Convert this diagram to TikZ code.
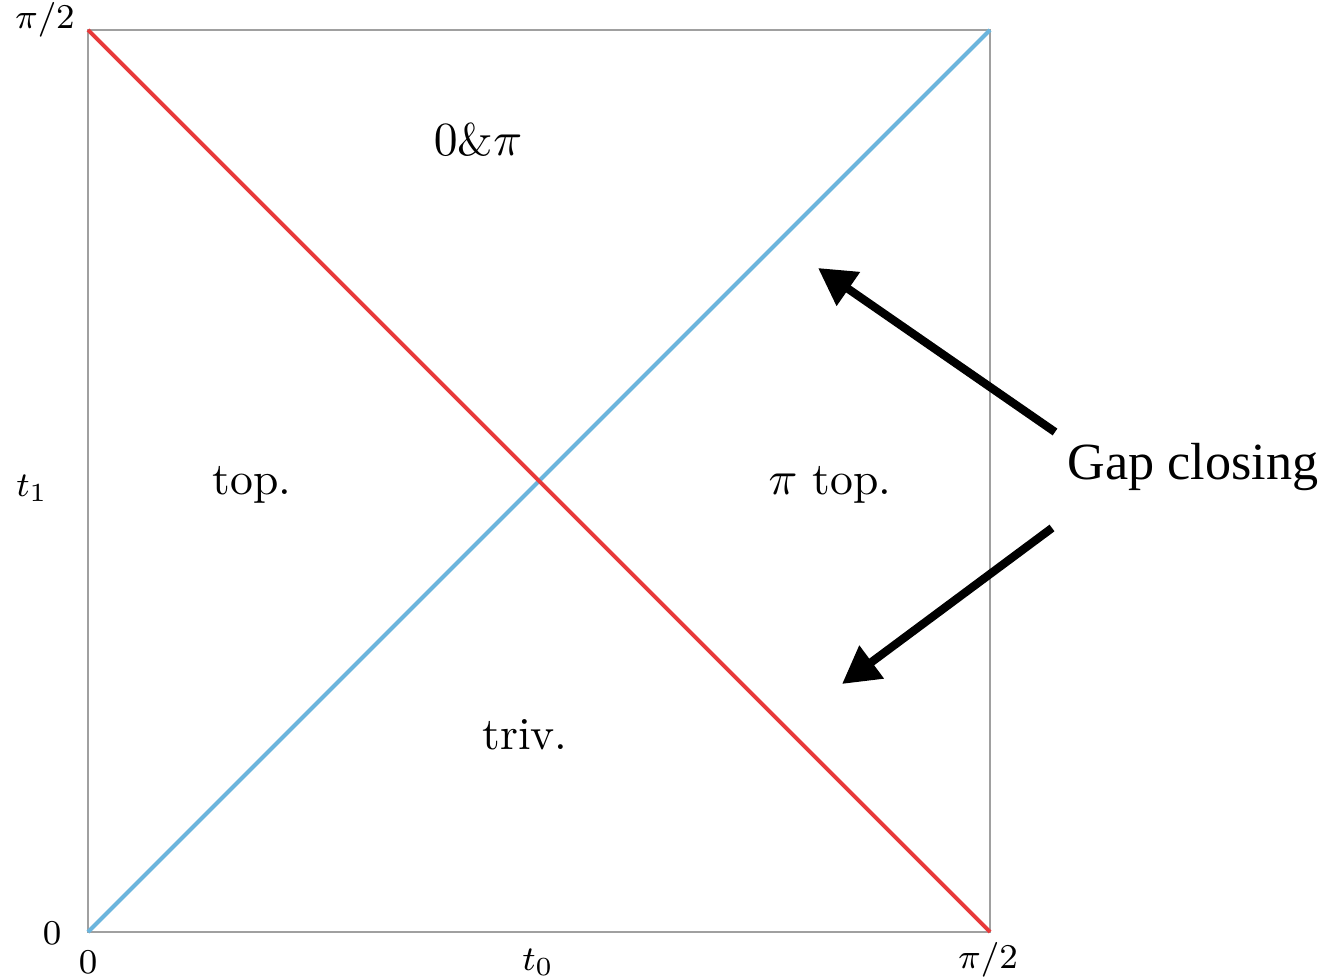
\documentclass[tikz,border=0pt]{standalone}
\usepackage{amsmath,amssymb}
\usepackage{fontspec}
\usepackage{xcolor}
\usepackage{tikz}
\usetikzlibrary{positioning, arrows.meta}
\newfontfamily\gapfont{Liberation Serif}
\definecolor{pRed}{HTML}{E8393A}
\definecolor{pBlue}{HTML}{6BB5DD}
\definecolor{pFrame}{HTML}{A0A0A0}
\tikzset{
  phaseline/.style={line width=0.9pt},
  ticklbl/.style={font=\fontsize{8.5}{10}\selectfont, inner sep=1pt},
  regionlbl/.style={font=\fontsize{10.5}{12}\selectfont, inner sep=1pt},
  gaparrow/.style={line width=1.9pt, -{Triangle[length=8.5pt,width=9pt]}},
}

\begin{document}
\begin{tikzpicture}[x=0.23pt,y=-0.23pt]
        \useasboundingbox (0,0) rectangle (1326,980);
        % corners of the phase square
        \coordinate (sw) at (88,932);
        \coordinate (se) at (990,932);
        \coordinate (nw) at (88,30);
        \coordinate (ne) at (990,30);
        \draw[pFrame, line width=0.45pt] (sw) rectangle (ne);
        \draw[phaseline, pBlue] (sw) -- (ne);
        \draw[phaseline, pRed] (nw) -- (se);
        % axis labels
        \node[ticklbl] (ytop) at (45,20) {$\pi/2$};
        \node[ticklbl] (ymid) at (32,488) {$t_1$};
        \node[ticklbl] (ybot) at (52,933) {$0$};
        \node[ticklbl] (xleft) at (88,962) {$0$};
        \node[ticklbl] (xmid) at (538,962) {$t_0$};
        \node[ticklbl] (xright) at (988,960) {$\pi/2$};
        % phases
        \node[regionlbl] (both) at (478,140) {$0\&\pi$};
        \node[regionlbl] (topo) at (252,485) {top.};
        \node[regionlbl] (pitopo) at (830,485) {$\pi$ top.};
        \node[regionlbl] (triv) at (525,735) {triv.};
        % gap closing
        \node[font=\gapfont\fontsize{12}{14}\selectfont, inner sep=1pt] (gap) at (1193,467) {Gap closing};
        \coordinate (g1) at (1055,432);
        \coordinate (g2) at (1052,528);
        \coordinate (c1) at (818,268);
        \coordinate (c2) at (842,684);
        \draw[gaparrow] (g1) -- (c1);
        \draw[gaparrow] (g2) -- (c2);
      \end{tikzpicture}
\end{document}
